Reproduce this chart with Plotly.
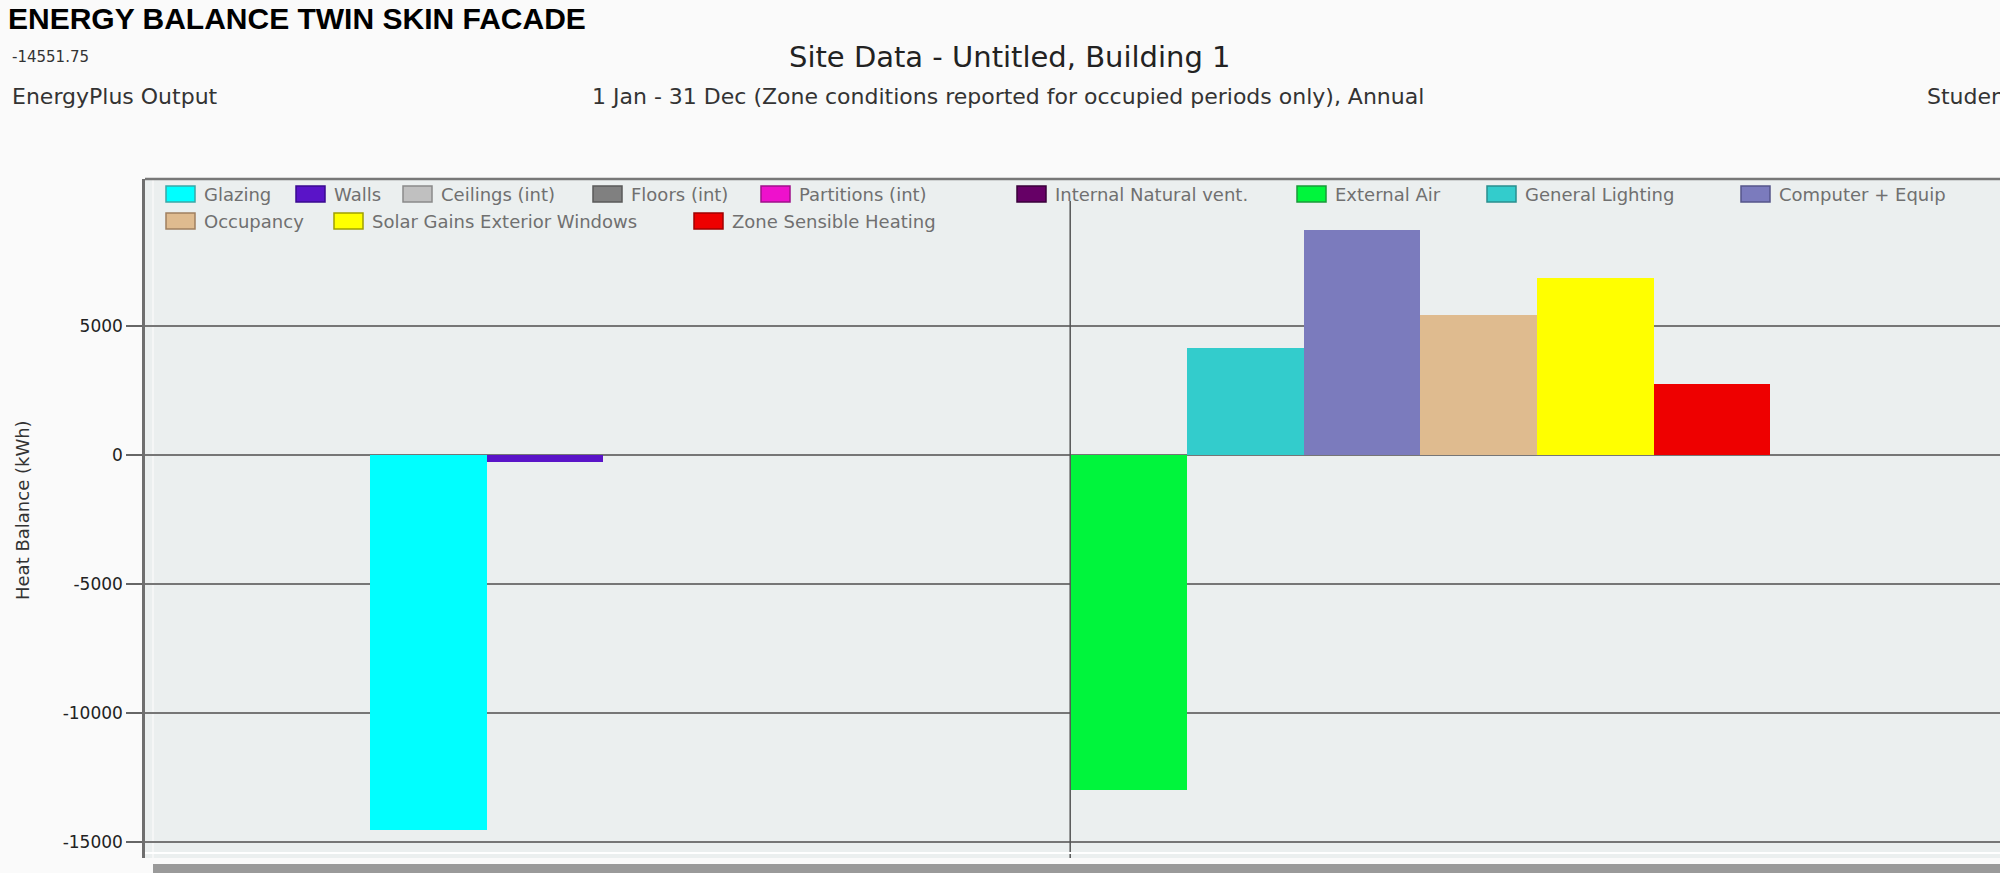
import plotly.graph_objects as go

# ---------------- data ----------------
categories = ["Glazing", "Walls", "Ceilings (int)", "Floors (int)", "Partitions (int)",
              "Internal Natural vent.", "External Air", "General Lighting",
              "Computer + Equip", "Occupancy", "Solar Gains Exterior Windows",
              "Zone Sensible Heating"]
heat_balance_kwh = [-14551.75, -280, 0, 0, 0, 0, -12980, 4140, 8740, 5420, 6880, 2760]
bar_colors = ["#00ffff", "#5a14c8", "#c0c0c0", "#808080", "#ee11cc", "#660066",
              "#00f53c", "#33cccc", "#7b7bbd", "#dfbb8f", "#ffff00", "#ee0000"]
swatch_borders = ["#3aa8a8", "#3a0a90", "#8a8a8a", "#5a5a5a", "#a0108a", "#3a003a",
                  "#1a9a3a", "#2a8f8f", "#55558a", "#a08060", "#a0a000", "#a00000"]
ytick_vals = [-15000, -10000, -5000, 0, 5000]
ytick_text = ["-15000", "-10000", "-5000", "0", "5000"]

chart_title = "ENERGY BALANCE TWIN SKIN FACADE"
min_value_label = "-14551.75"
source_label = "EnergyPlus Output"
site_title = "Site Data - Untitled, Building 1"
period_label = "1 Jan - 31 Dec (Zone conditions reported for occupied periods only), Annual"
licence_label = "Student Version"
y_title = "Heat Balance (kWh)"

# ---------------- layout geometry (pixels) ----------------
W, H = 2000, 873
L, R, T, B = 145, 0, 179, 15
plotW = W - L - R
plotH = H - T - B


def px(x):
    return (x - L) / plotW


def py(y):
    return (H - B - y) / plotH


FONT_T = "Liberation Sans, Arial, sans-serif"
FONT = "DejaVu Sans, Verdana, sans-serif"


def note(text, x, y, size, color, xanchor="left", family=FONT, angle=0):
    return dict(text=text, x=px(x), y=py(y), xref="paper", yref="paper",
                xanchor=xanchor, yanchor="middle", showarrow=False, textangle=angle,
                font=dict(size=size, color=color, family=family))


fig = go.Figure()
fig.add_trace(go.Bar(
    x=categories, y=heat_balance_kwh,
    marker=dict(color=bar_colors, line=dict(width=0)),
    width=1.0, showlegend=False, hoverinfo="x+y",
))

annotations = [
    note("<b>" + chart_title + "</b>", 6, 19, 30, "#000000", family=FONT_T),
    note(min_value_label, 10, 57, 15, "#333333"),
    note(source_label, 10, 96, 22, "#333333"),
    note(site_title, 1010, 57, 29, "#222222", xanchor="center"),
    note(period_label, 1008, 96, 22, "#333333", xanchor="center"),
    note(licence_label, 1925, 96, 22, "#333333"),
    note(y_title, 22, 510, 18, "#333333", xanchor="center", angle=-90),
]

shapes = []
# custom legend (two rows, large swatches like the original)
swatch_x = [166, 296, 403, 593, 761, 1017, 1297, 1487, 1741, 166, 334, 694]
swatch_row = [0, 0, 0, 0, 0, 0, 0, 0, 0, 1, 1, 1]
row_y = [194, 221]
sw_w, sw_h = 29, 16
for name, col, bcol, sx, r in zip(categories, bar_colors, swatch_borders, swatch_x, swatch_row):
    cy = row_y[r]
    shapes.append(dict(type="rect", xref="paper", yref="paper",
                       x0=px(sx), x1=px(sx + sw_w), y0=py(cy + sw_h / 2), y1=py(cy - sw_h / 2),
                       fillcolor=col, line=dict(color=bcol, width=1.5), layer="above"))
    annotations.append(note(name, sx + 36, cy, 18, "#707070"))

# divider between the two bar groups
shapes.append(dict(type="line", xref="x", yref="paper", x0=5.5, x1=5.5, y0=0, y1=py(201),
                   line=dict(color="#555555", width=1.5), layer="above"))
# top frame line
shapes.append(dict(type="line", xref="paper", yref="paper", x0=0, x1=1, y0=1, y1=1,
                   line=dict(color="#777777", width=2.5)))
# light inner left line
shapes.append(dict(type="line", xref="paper", yref="paper", x0=px(153), x1=px(153), y0=0, y1=1,
                   line=dict(color="#f8f8f8", width=1.5), layer="below"))
# bottom shadow band
shapes.append(dict(type="rect", xref="paper", yref="paper", x0=px(153), x1=1,
                   y0=py(873), y1=py(864), fillcolor="#9a9a9a", line=dict(width=0)))
# light inner bottom line
shapes.append(dict(type="line", xref="paper", yref="paper", x0=0, x1=1, y0=py(853), y1=py(853),
                   line=dict(color="#ffffff", width=2)))

# y scale: 0 at 455 px, 0.0258 px per kWh
k = 0.0258
y_top = (455 - T) / k
y_bot = -((H - B) - 455) / k

# category index range: bar 0 centre at 428.35 px, 116.7 px per bar
c0, bw = 428.35, 116.7
x_lo = (L - c0) / bw
x_hi = (W - R - c0) / bw

fig.update_layout(
    width=W, height=H, autosize=False,
    margin=dict(l=L, r=R, t=T, b=B, pad=0),
    paper_bgcolor="#fafafa", plot_bgcolor="#ebefef",
    bargap=0,
    font=dict(family=FONT, color="#222222"),
    annotations=annotations, shapes=shapes,
    showlegend=False,
    xaxis=dict(type="category", range=[x_lo, x_hi], showticklabels=False, ticks="",
               showgrid=False, zeroline=False, showline=False, fixedrange=True),
    yaxis=dict(range=[y_bot, y_top], tickvals=ytick_vals, ticktext=ytick_text,
               ticks="outside", ticklen=16, tickwidth=1.5, tickcolor="#666666",
               tickfont=dict(size=17, color="#222222", family=FONT),
               showgrid=True, gridcolor="#767676", gridwidth=2.2,
               zeroline=True, zerolinecolor="#767676", zerolinewidth=2.2,
               showline=True, linecolor="#6e6e6e", linewidth=2.5, fixedrange=True),
)

fig.write_html("out.html", config={"displayModeBar": False},
               post_script="document.body.style.margin='0';document.body.style.overflow='hidden';")
